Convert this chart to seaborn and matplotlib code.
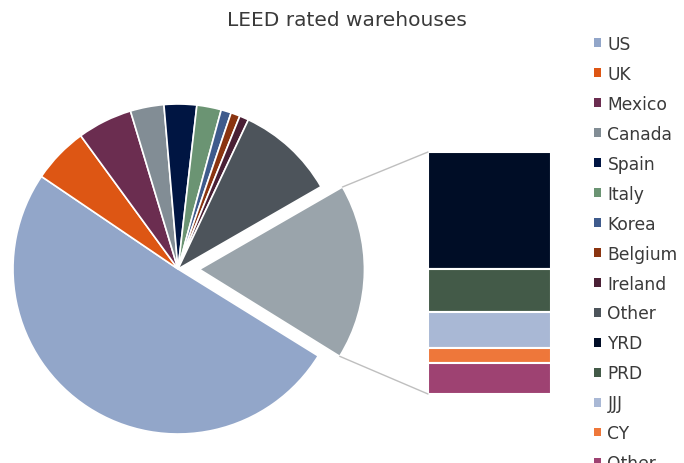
import numpy as np
import matplotlib
matplotlib.use('Agg')
import matplotlib.pyplot as plt
from matplotlib.patches import Patch, ConnectionPatch
import seaborn as sns

# main pie (last slice is China, broken out into the bar)
pie_labels = ['US', 'UK', 'Mexico', 'Canada', 'Spain', 'Italy', 'Korea', 'Belgium', 'Ireland', 'Other']
pie_values = [50.8, 5.5, 5.4, 3.3, 3.2, 2.4, 1.0, 0.9, 0.9, 9.7]
pie_colors = ['#92A6C9', '#DD5614', '#6B2D50', '#828D95', '#001542', '#6B9473',
              '#3F5B8C', '#8A3410', '#4A2035', '#4D545B']
china_color = '#9AA4AB'

# breakdown of the China slice
bar_labels = ['YRD', 'PRD', 'JJJ', 'CY', 'Other']
bar_values = [8.3, 3.1, 2.5, 1.1, 2.2]
bar_colors = ['#000D26', '#435A48', '#A9B8D5', '#EE773A', '#9E4272']

sns.set_theme(style='white')
plt.rcParams['font.family'] = ['DejaVu Sans']
text_color = '#3A3A3A'

W, H = 684, 464
fig = plt.figure(figsize=(W / 100, H / 100), dpi=100)

def px_axes(x0, y0, x1, y1):
    return fig.add_axes([x0 / W, 1 - y1 / H, (x1 - x0) / W, (y1 - y0) / H])

# pie axes
cx, cy, r = 178, 270, 165
ax_pie = px_axes(cx - r, cy - r, cx + r, cy + r)
china_val = sum(bar_values)
vals = pie_values + [china_val]
cols = pie_colors + [china_color]
explode = [0] * len(pie_values) + [0.13]
start = 328.2
wedges, _ = ax_pie.pie(vals, colors=cols, explode=explode, startangle=start,
                       counterclock=False, radius=1,
                       wedgeprops=dict(edgecolor='white', linewidth=1.2))
ax_pie.set_xlim(-1, 1)
ax_pie.set_ylim(-1, 1)
ax_pie.set_aspect('equal')
ax_pie.axis('off')

# bar axes
ax_bar = px_axes(428, 153, 551, 395)
bottom = china_val
for lab, v, c in zip(bar_labels, bar_values, bar_colors):
    bottom -= v
    ax_bar.bar([0], [v], bottom=bottom, width=1, color=c, edgecolor='white', linewidth=1.5)
ax_bar.set_xlim(-0.5, 0.5)
ax_bar.set_ylim(0, china_val)
ax_bar.axis('off')

# connector lines
w = wedges[-1]
th1, th2 = np.deg2rad(w.theta1), np.deg2rad(w.theta2)
ccx, ccy = w.center
top_pt = (ccx + np.cos(max(th1, th2)), ccy + np.sin(max(th1, th2)))
bot_pt = (ccx + np.cos(min(th1, th2)), ccy + np.sin(min(th1, th2)))
for p, yb in [(top_pt, china_val), (bot_pt, 0)]:
    con = ConnectionPatch(xyA=p, coordsA=ax_pie.transData, xyB=(-0.5, yb), coordsB=ax_bar.transData,
                          color='#BFBFBF', linewidth=1)
    fig.add_artist(con)

fig.text(347 / W, 1 - 21 / H, 'LEED rated warehouses', ha='center', va='center',
         fontsize=14.5, color=text_color)

handles = [Patch(facecolor=c, edgecolor='none') for c in pie_colors + bar_colors]
labels = pie_labels + bar_labels
fig.legend(handles, labels, loc='upper left', bbox_to_anchor=(587 / W, 1 - 29 / H),
           frameon=False, fontsize=12.3, labelcolor=text_color, handlelength=0.4,
           handleheight=0.4, handletextpad=0.4, labelspacing=0.7, borderaxespad=0)

fig.savefig('out.png', dpi=100)
